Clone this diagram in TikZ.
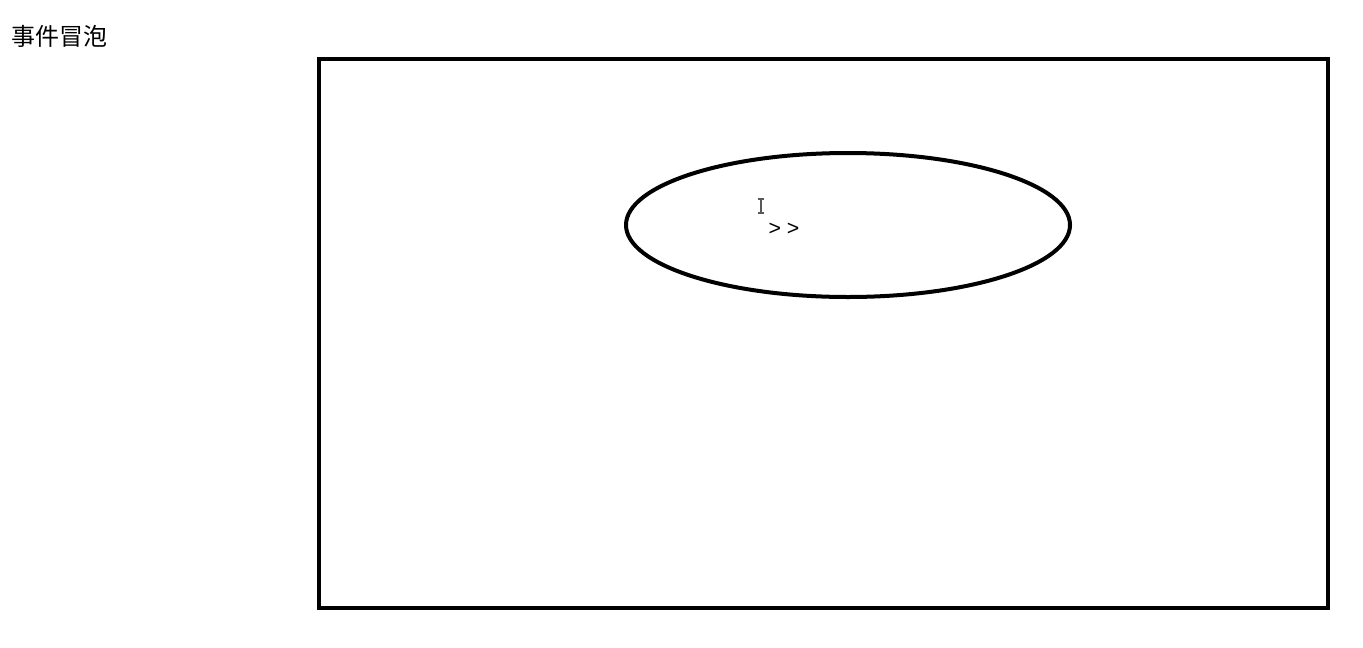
\documentclass[tikz,border=0pt]{standalone}
\usepackage{fontspec}
\setmainfont{Liberation Sans}
\newfontfamily\cjk{Noto Sans CJK SC}

\begin{document}
\begin{tikzpicture}[x=0.75pt, y=-0.75pt]
    \useasboundingbox (0, 0) rectangle (1363, 647);
    \node[anchor=west, inner sep=0pt, font=\cjk\fontsize{18}{21}\selectfont] (title) at (11, 36) {事件冒泡};
    \draw[line width=3pt] (319, 59) rectangle (1328, 608);
    \draw[line width=3pt] (848, 225) ellipse (222 and 72);
    % cursor
    \draw[gray!70!black, line width=0.8pt] (761, 199) -- (761, 213);
    \draw[gray!70!black, line width=0.8pt] (758, 199) -- (764, 199);
    \draw[gray!70!black, line width=0.8pt] (758, 213) -- (764, 213);
    \node[inner sep=0pt, font=\fontsize{16}{18}\selectfont] (arrows) at (784, 229) {> >};
\end{tikzpicture}
\end{document}
